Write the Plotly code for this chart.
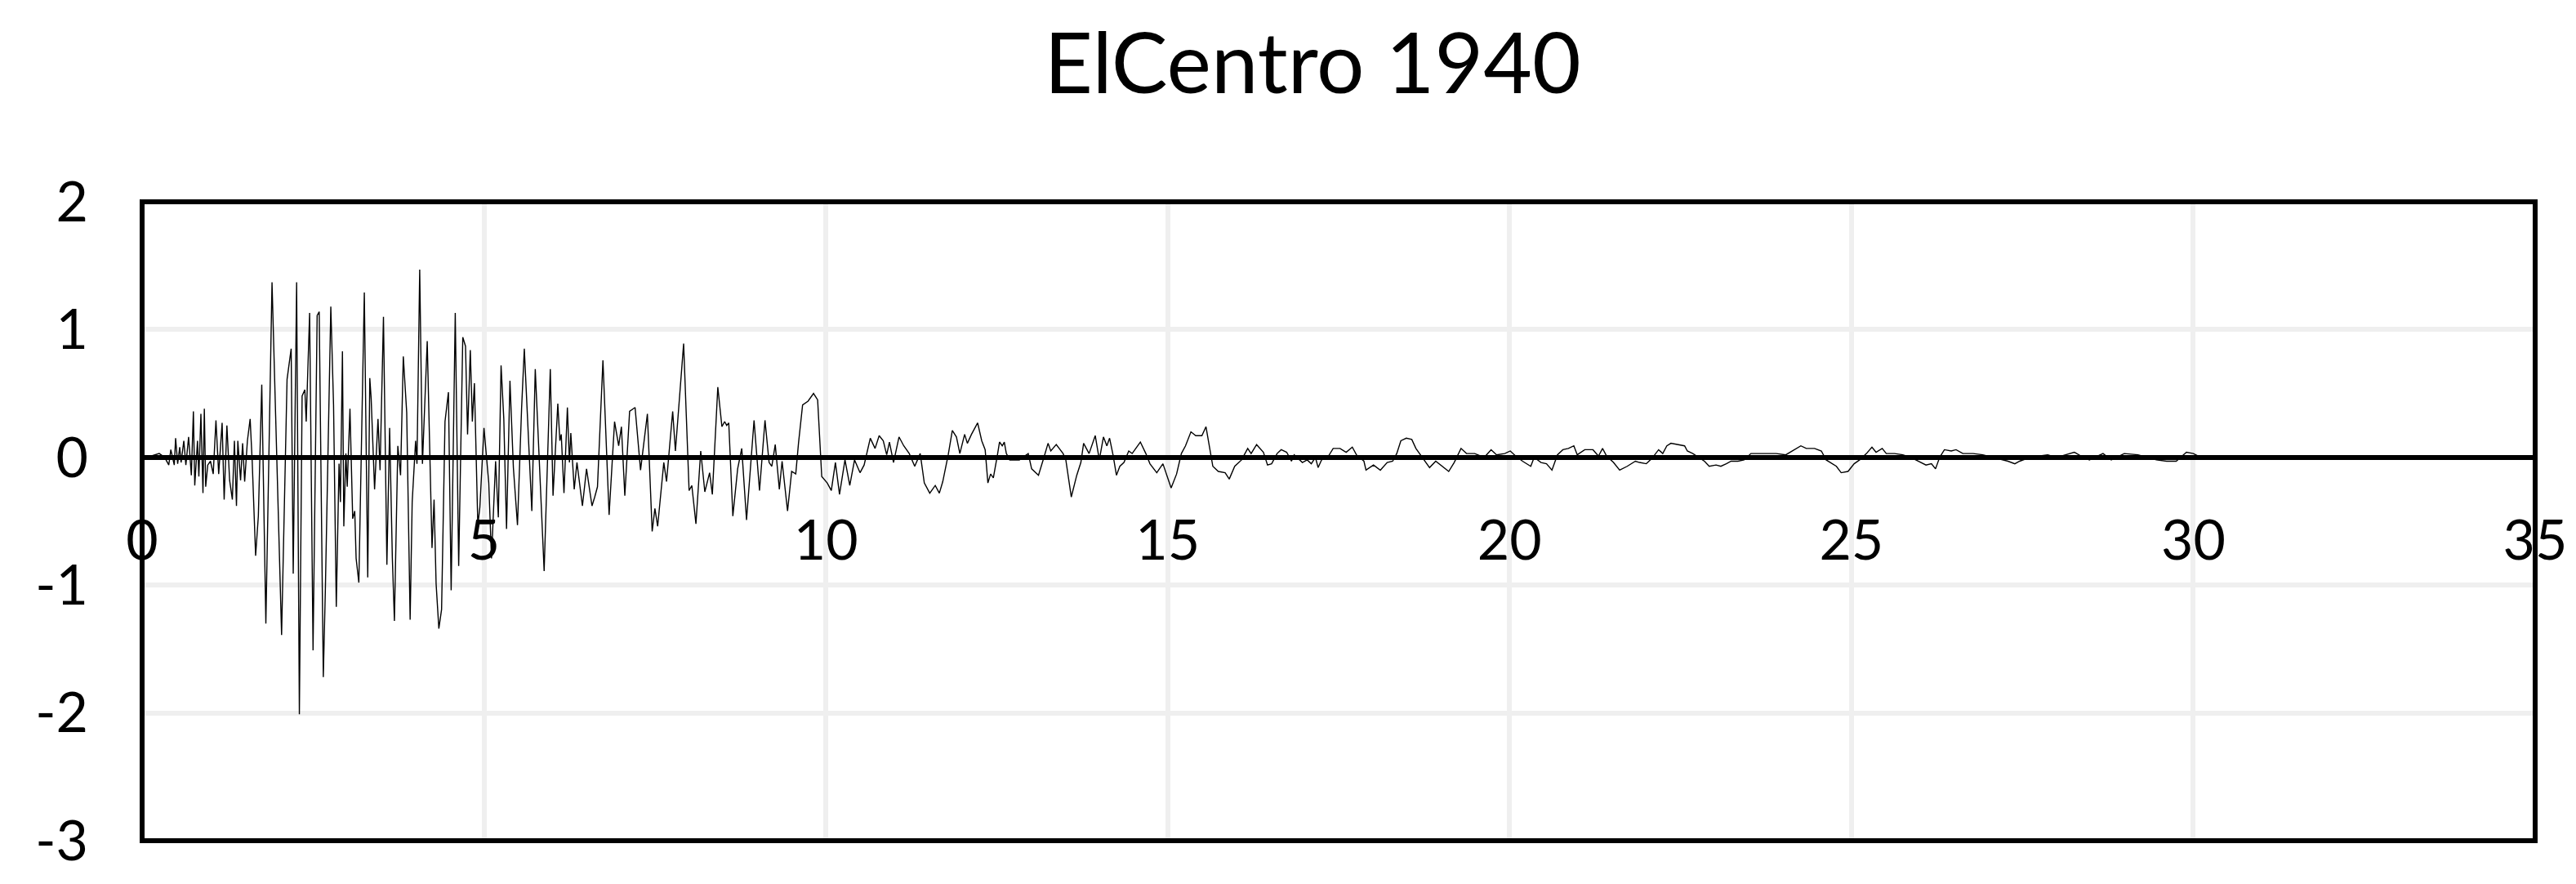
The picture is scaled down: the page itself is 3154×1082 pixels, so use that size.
import plotly.graph_objects as go

# ElCentro 1940 ground acceleration (time in s, accel in g)
time_s = [
    0.00, 0.05, 0.13, 0.25, 0.33, 0.39, 0.42, 0.47, 0.49, 0.52, 0.55, 0.57, 0.61, 0.64, 0.68,
    0.72, 0.75, 0.77, 0.81, 0.83, 0.86, 0.89, 0.91, 0.93, 0.96, 1.00, 1.04, 1.08, 1.12, 1.14,
    1.17, 1.20, 1.24, 1.28, 1.32, 1.35, 1.38, 1.40, 1.44, 1.47, 1.50, 1.54, 1.58, 1.61, 1.66,
    1.70, 1.75, 1.81, 1.90, 2.04, 2.12, 2.18, 2.21, 2.26, 2.30, 2.34, 2.38, 2.40, 2.45, 2.50,
    2.56, 2.59, 2.65, 2.68, 2.76, 2.80, 2.84, 2.88, 2.90, 2.93, 2.95, 2.98, 3.00, 3.04, 3.08,
    3.11, 3.13, 3.17, 3.25, 3.30, 3.33, 3.35, 3.40, 3.45, 3.48, 3.53, 3.58, 3.62, 3.66, 3.69,
    3.74, 3.78, 3.82, 3.87, 3.92, 3.95, 4.00, 4.02, 4.06, 4.10, 4.17, 4.24, 4.27, 4.30, 4.34,
    4.38, 4.43, 4.48, 4.52, 4.58, 4.63, 4.69, 4.73, 4.76, 4.80, 4.83, 4.86, 4.91, 4.94, 5.00,
    5.07, 5.11, 5.17, 5.21, 5.25, 5.29, 5.33, 5.38, 5.43, 5.49, 5.55,
    5.59, 5.70, 5.75, 5.88, 5.97, 6.01, 6.08, 6.11, 6.13, 6.17, 6.22, 6.25, 6.27, 6.32, 6.36,
    6.44, 6.50, 6.58, 6.62, 6.66, 6.74, 6.83, 6.91, 6.97, 7.01, 7.06, 7.13, 7.21, 7.29, 7.39,
    7.46, 7.50, 7.54, 7.63, 7.67, 7.76, 7.80, 7.92, 8.00, 8.04, 8.10, 8.17, 8.23, 8.30, 8.34,
    8.42, 8.48, 8.52, 8.55, 8.58, 8.64, 8.71, 8.77, 8.84, 8.95, 9.03, 9.11, 9.17, 9.21, 9.26,
    9.32, 9.36, 9.44, 9.50, 9.56, 9.60, 9.66, 9.74, 9.82, 9.88, 9.94, 10.02, 10.08, 10.14, 10.20,
    10.28, 10.35, 10.42, 10.50,
    10.56, 10.65, 10.72, 10.78, 10.84, 10.89, 10.93, 10.99, 11.07, 11.14, 11.22, 11.30, 11.38,
    11.44, 11.52, 11.60, 11.66, 11.71, 11.79, 11.85, 11.91, 11.96, 12.03, 12.07, 12.13, 12.22,
    12.28, 12.33, 12.37, 12.41, 12.45, 12.51, 12.54, 12.58, 12.61, 12.64, 12.69, 12.83, 12.96,
    13.01, 13.11, 13.19, 13.25, 13.29, 13.37, 13.47, 13.51, 13.59, 13.67, 13.73, 13.77, 13.85,
    13.94, 14.00, 14.06, 14.11, 14.15, 14.20, 14.25, 14.30, 14.36, 14.43, 14.48, 14.60, 14.68,
    14.74, 14.84, 14.93, 15.05, 15.13, 15.20, 15.26, 15.34, 15.41, 15.50, 15.56, 15.66, 15.74,
    15.84, 15.90, 15.98, 16.08, 16.17, 16.22, 16.30, 16.40, 16.46, 16.52, 16.60,
    16.66, 16.74, 16.81, 16.85, 16.97, 17.04, 17.10, 17.16, 17.20, 17.25, 17.34, 17.42, 17.52,
    17.61, 17.70, 17.76, 17.87, 17.90, 18.01, 18.11, 18.21, 18.29, 18.35, 18.41, 18.49, 18.57,
    18.63, 18.71, 18.83, 18.92, 19.01, 19.11, 19.19, 19.29, 19.37, 19.49, 19.63, 19.73, 19.81,
    19.93, 20.01, 20.09, 20.19, 20.31, 20.36, 20.46, 20.54, 20.62, 20.70, 20.78, 20.86, 20.94,
    20.99, 21.10, 21.22, 21.30, 21.36, 21.42, 21.52, 21.61, 21.72, 21.84, 21.90, 22.00, 22.08,
    22.18, 22.24, 22.30, 22.36, 22.48, 22.56, 22.60, 22.68,
    22.85, 22.92, 23.02, 23.09, 23.17, 23.24, 23.34, 23.43, 23.53, 23.65, 23.78, 23.90, 24.04,
    24.14, 24.26, 24.34, 24.46, 24.56, 24.63, 24.78, 24.85, 24.95, 25.04, 25.12, 25.22, 25.30,
    25.36, 25.45, 25.51, 25.63, 25.75, 25.87, 25.99, 26.09, 26.17, 26.23, 26.29, 26.36, 26.46,
    26.53, 26.63, 26.78, 26.92, 27.07, 27.29, 27.39, 27.46, 27.61, 27.87, 28.00, 28.26, 28.36,
    28.48, 28.68, 28.80, 28.99, 29.19, 29.46, 29.61, 29.75, 29.90, 30.00, 30.07,
]
accel_g = [
    0.00, 0.00, 0.01, 0.03, 0.00, -0.06, 0.06, -0.06, 0.15, -0.05, 0.08, -0.04, 0.13, -0.06, 0.16,
    -0.14, 0.36, -0.22, 0.13, -0.15, 0.34, -0.28, 0.38, -0.23, -0.06, -0.03, -0.13, 0.29, -0.13, 0.05,
    0.27, -0.33, 0.25, -0.18, -0.33, 0.13, -0.38, 0.13, -0.18, 0.11, -0.19, 0.13, 0.30, -0.03, -0.77,
    -0.46, 0.57, -1.30, 1.37, -1.39, 0.61, 0.85, -0.91, 1.37, -2.01, 0.48, 0.53, 0.28, 1.13, -1.51,
    1.11, 1.14, -1.72, -1.04, 1.18, 0.41, -1.17, -0.05, -0.35, 0.83, -0.54, 0.03, -0.23, 0.38, -0.48,
    -0.42, -0.79, -0.98, 1.29, -0.94, 0.62, 0.46, -0.25, 0.30, -0.10, 1.10, -0.84, 0.23, -0.79, -1.28,
    0.09, -0.14, 0.79, 0.35, -1.27, -0.35, 0.13, -0.05, 1.47, -0.05, 0.91, -0.71, -0.33, -0.99, -1.34,
    -1.19, 0.28, 0.51, -1.04, 1.13, -0.85, 0.94, 0.87, 0.18, 0.84, 0.28, 0.58, -0.53, -0.39, 0.23,
    -0.20, -0.79, -0.03, -0.47, 0.72, 0.30, -0.56, 0.60, -0.08, -0.53, 0.38,
    0.85, -0.42, 0.69, -0.89, 0.69, -0.30, 0.42, 0.13, 0.18, -0.28, 0.39, -0.04, 0.19, -0.25, -0.04,
    -0.38, -0.09, -0.38, -0.31, -0.23, 0.76, -0.45, 0.28, 0.09, 0.24, -0.30, 0.36, 0.39, -0.10, 0.34,
    -0.58, -0.40, -0.54, -0.04, -0.19, 0.36, 0.05, 0.89, -0.26, -0.22, -0.52, 0.05, -0.27, -0.12, -0.29,
    0.55, 0.24, 0.28, 0.25, 0.27, -0.46, -0.09, 0.07, -0.49, 0.29, -0.26, 0.29, -0.04, -0.07, 0.10,
    -0.25, -0.03, -0.42, -0.11, -0.13, 0.11, 0.41, 0.44, 0.50, 0.45, -0.15, -0.20, -0.26, -0.04, -0.29,
    -0.02, -0.22, -0.02, -0.12,
    -0.06, 0.15, 0.07, 0.17, 0.13, 0.02, 0.12, -0.04, 0.16, 0.09, 0.03, -0.07, 0.03,
    -0.20, -0.28, -0.22, -0.28, -0.19, 0.02, 0.21, 0.16, 0.03, 0.18, 0.11, 0.18, 0.27,
    0.13, 0.06, -0.20, -0.13, -0.16, 0.02, 0.12, 0.09, 0.12, 0.03, -0.02, -0.02, 0.03,
    -0.09, -0.14, 0.00, 0.11, 0.05, 0.10, 0.03, -0.02, -0.31, -0.14, -0.04, 0.11, 0.03,
    0.17, -0.02, 0.16, 0.09, 0.15, 0.02, -0.14, -0.07, -0.04, 0.05, 0.03, 0.12, 0.03,
    -0.05, -0.12, -0.05, -0.24, -0.13, 0.03, 0.09, 0.20, 0.17, 0.17, 0.24, -0.07, -0.11,
    -0.12, -0.17, -0.07, -0.02, 0.07, 0.03, 0.10, 0.04, -0.06, -0.05, 0.03,
    0.06, 0.04, -0.03, 0.02, -0.04, -0.02, -0.05, 0.00, -0.08, -0.02, 0.00, 0.07, 0.07,
    0.04, 0.08, 0.02, -0.03, -0.10, -0.06, -0.10, -0.04, -0.03, 0.03, 0.13, 0.15, 0.14,
    0.07, 0.01, -0.08, -0.03, -0.07, -0.11, -0.04, 0.07, 0.03, 0.03, 0.00, 0.06, 0.02,
    0.03, 0.05, 0.01, -0.03, -0.07, 0.00, -0.04, -0.05, -0.10, 0.02, 0.06, 0.07, 0.09,
    0.02, 0.06, 0.06, 0.01, 0.07, 0.01, -0.04, -0.10, -0.07, -0.03, -0.04, -0.05, -0.01,
    0.06, 0.03, 0.09, 0.11, 0.10, 0.09, 0.05, 0.03,
    -0.03, -0.07, -0.06, -0.07, -0.05, -0.03, -0.03, -0.02, 0.03, 0.03, 0.03, 0.03, 0.02,
    0.05, 0.09, 0.07, 0.07, 0.05, -0.02, -0.07, -0.12, -0.11, -0.05, -0.02, 0.03, 0.08,
    0.04, 0.07, 0.03, 0.03, 0.02, 0.00, -0.03, -0.06, -0.05, -0.09, 0.00, 0.06, 0.05,
    0.06, 0.03, 0.03, 0.02, 0.00, -0.03, -0.05, -0.03, 0.00, 0.02, 0.00, 0.04, 0.01,
    -0.02, 0.03, -0.02, 0.03, 0.02, -0.02, -0.03, -0.03, 0.04, 0.03, 0.01,
]

x_ticks = [0, 5, 10, 15, 20, 25, 30, 35]
y_ticks = [-3, -2, -1, 0, 1, 2]
y_tick_text = ["-3", "-2", "-1", "0", "1", "2"]

FONT = "Lato"
GRID = "#EFEFEF"

fig = go.Figure()
fig.add_trace(go.Scatter(
    x=time_s, y=accel_g, mode="lines",
    line=dict(color="black", width=1.4),
    showlegend=False,
))

fig.update_layout(
    width=3154, height=1082,
    margin=dict(l=166, r=58, t=239, b=61, pad=0),
    paper_bgcolor="white", plot_bgcolor="white",
    font=dict(family=FONT, color="black"),
    title=dict(text="ElCentro 1940", font=dict(family=FONT, size=103, color="black"),
               x=0.507, xanchor="center", xref="container",
               y=0.935, yanchor="middle", yref="container"),
    xaxis=dict(
        range=[0, 35], tickvals=x_ticks, ticktext=[str(v) for v in x_ticks],
        anchor="free", position=0.6,
        showgrid=True, gridcolor=GRID, gridwidth=6,
        zeroline=False, showline=False, ticks="",
        tickfont=dict(size=68), ticklabelstandoff=56,
    ),
    yaxis=dict(
        range=[-3, 2], tickvals=y_ticks, ticktext=y_tick_text,
        anchor="free", position=0,
        showgrid=True, gridcolor=GRID, gridwidth=6,
        zeroline=True, zerolinecolor="black", zerolinewidth=6,
        showline=False, ticks="",
        tickfont=dict(size=68), ticklabelstandoff=66,
    ),
    shapes=[dict(type="rect", xref="paper", yref="paper", x0=0, x1=1, y0=0, y1=1,
                 line=dict(color="black", width=6), layer="above")],
)

fig.write_html("out.html")
